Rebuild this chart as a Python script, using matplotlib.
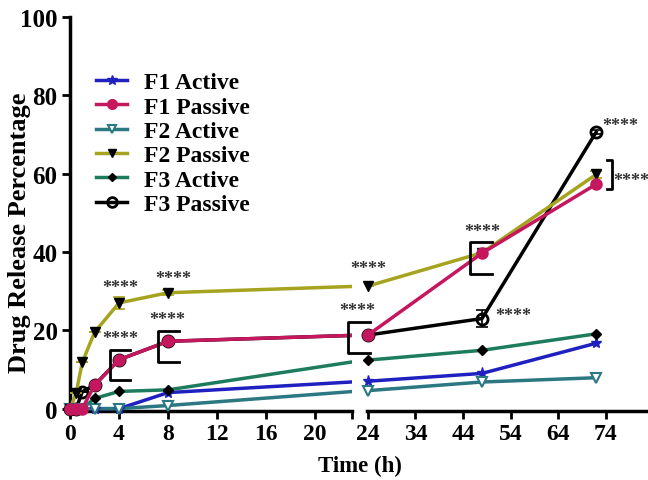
import matplotlib
matplotlib.use('Agg')
import matplotlib.pyplot as plt
from matplotlib.lines import Line2D

plt.rcParams['font.family'] = 'Liberation Serif'
plt.rcParams['font.weight'] = 'bold'

# time points (h)
time = [0, 0.5, 1, 2, 4, 8, 24, 48, 72]

f1_active = [0, 0, 0, 0, 0, 4.1, 7.0, 9.0, 16.7]
f1_passive = [0, 0, 0, 6.0, 12.5, 17.2, 18.8, 39.7, 57.3]
f2_active = [0, 0, 0, 0, 0, 0.8, 4.6, 6.8, 7.9]
f2_passive = [0, 4.0, 11.8, 19.5, 27.0, 29.6, 31.3, 39.8, 59.8]
f3_active = [0, 0, 0, 2.6, 4.4, 4.8, 12.4, 14.9, 19.1]
f3_passive = [0, 0, 4.3, 6.0, 12.5, 17.2, 18.8, 23.0, 70.6]

f2_passive_err = [0, 0, 0, 0, 1.5, 0.6, 0, 0, 1.0]
f3_passive_err = [0, 0, 0, 0, 0, 0, 0, 2.2, 0.6]

series = [
    ('F1 Active', f1_active, None, dict(color='#2020c0', marker='*', ms=8, mfc='#2020c0', z=3)),
    ('F1 Passive', f1_passive, None, dict(color='#c4175e', marker='o', ms=8, mfc='#c4175e', z=5)),
    ('F2 Active', f2_active, None, dict(color='#2b7782', marker='v', ms=7, mfc='white', mew=1.5, z=3)),
    ('F2 Passive', f2_passive, f2_passive_err, dict(color='#a6a31e', marker='v', ms=7, mfc='black', mec='black', z=3)),
    ('F3 Active', f3_active, None, dict(color='#1d7c5e', marker='D', ms=5, mfc='black', mec='black', z=3)),
    ('F3 Passive', f3_passive, f3_passive_err, dict(color='black', marker='o', ms=8, mfc='none', mew=2, z=2)),
]

fig = plt.figure(figsize=(6.48, 4.81), dpi=100)
ax1 = fig.add_axes([70/648, 69/481, 282/648, 394/481])
ax2 = fig.add_axes([367/648, 69/481, 280/648, 394/481])

for ax, lo, hi in ((ax1, 0, 23), (ax2, 23.8, 82.7)):
    for lab, vals, err, st in series:
        ax.plot(time, vals, lw=2.5, color=st['color'], label=lab, zorder=st['z'])
        tt = [t for t in time if lo <= t <= hi]
        vv = [v for t, v in zip(time, vals) if lo <= t <= hi]
        ax.plot(tt, vv, lw=0, marker=st['marker'], ms=st['ms'], mfc=st['mfc'],
                mec=st.get('mec', st['color']), mew=st.get('mew', 1), clip_on=False, zorder=st['z'] + 0.5)
        if err is not None:
            ax.errorbar(time, vals, yerr=err, fmt='none', ecolor=st['color'], elinewidth=1.2,
                        capsize=4, capthick=1.2, zorder=st['z'])
    ax.set_xlim(lo, hi)

for ax in (ax1, ax2):
    ax.set_ylim(-0.6, 100)
    ax.spines['top'].set_visible(False)
    ax.spines['right'].set_visible(False)
    ax.spines['bottom'].set_linewidth(2.5)
    ax.tick_params(axis='both', direction='out', length=6, width=2, labelsize=17, pad=3)
    ax.patch.set_alpha(0)

ax1.spines['left'].set_linewidth(2.5)
ax1.set_xticks([0, 4, 8, 12, 16, 20, 23])
ax1.set_xticklabels(['0', '4', '8', '12', '16', '20', ''])
ax1.set_yticks([0, 20, 40, 60, 80, 100])
ax1.tick_params(axis='y', labelsize=18)
ax2.spines['left'].set_visible(False)
ax2.set_yticks([])
ax2.set_xticks([24, 34, 44, 54, 64, 74])

fig.text(360/648, 0.03, 'Time (h)', ha='center', va='center', fontsize=16.5, fontweight='bold')
fig.text(20/648, 0.515, 'Drug Release Percentage', ha='center', va='center', rotation=90,
         fontsize=19, fontweight='bold')

# legend
handles = []
for lab, vals, err, st in series:
    handles.append(Line2D([], [], color=st['color'], lw=2.5, marker=st['marker'], ms=st['ms'] - 1,
                          mfc=st['mfc'], mec=st.get('mec', st['color']), mew=st.get('mew', 1)))
ax1.legend(handles, [s[0] for s in series], loc='upper left', bbox_to_anchor=(0.06, 0.885),
           frameon=False, handlelength=1.3, labelspacing=0.12, handletextpad=0.7,
           borderaxespad=0, prop={'weight': 'bold', 'size': 17})

# significance marks
star_kw = dict(fontsize=13, ha='center', va='bottom', color='#333333')
ax1.text(4.1, 28.8, '****', **star_kw)
ax1.text(8.4, 31, '****', **star_kw)
ax1.text(4.1, 15.8, '****', **star_kw)
ax1.text(7.9, 20.5, '****', **star_kw)
ax2.text(24, 33.5, '****', **star_kw)
ax2.text(21.7, 23, '****', clip_on=False, **star_kw)
ax2.text(48, 43, '****', **star_kw)
ax2.text(54.5, 21.6, '****', **star_kw)
ax2.text(77.0, 70.0, '****', **star_kw)
ax2.text(79.3, 56.0, '****', clip_on=False, **star_kw)


def bracket(ax, x0, x1, y0, y1, left=True):
    xs = [x1, x0, x0, x1] if left else [x0, x1, x1, x0]
    ax.plot(xs, [y1, y1, y0, y0], color='black', lw=2, clip_on=False, zorder=6)


bracket(ax1, 3.3, 4.9, 7.4, 15.1)
bracket(ax1, 7.2, 8.9, 11.8, 19.7)
bracket(ax2, 19.8, 24.4, 14.3, 22.2)
bracket(ax2, 45.5, 50.0, 34.5, 42.5)
bracket(ax2, 74.3, 75.4, 56.0, 63.5, left=False)

fig.savefig('out.png', dpi=100)
